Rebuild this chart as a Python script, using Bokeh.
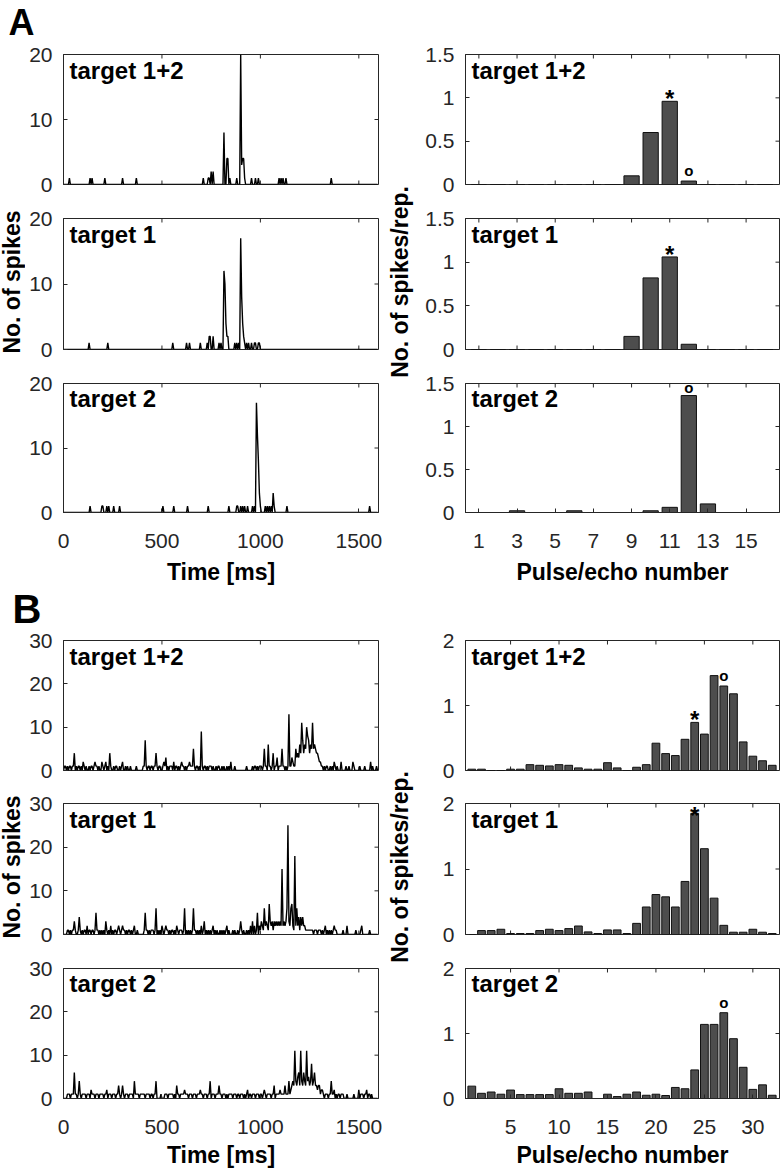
import numpy as np
from bokeh.plotting import figure
from bokeh.layouts import column, row
from bokeh.models import Range1d, FixedTicker, Label, NumeralTickFormatter
from bokeh.embed import file_html
from bokeh.resources import INLINE

FONT = "Liberation Sans"
DARK = "#262626"

# ---------------------------------------------------------------- data
BIN_MS = 5
N_BINS = 320
time_ticks = [0, 500, 1000, 1500]

# Panel A, PSTHs (spike counts per 5 ms bin; bins not listed are 0)
a12_t = [30, 135, 145, 210, 300, 370, 710, 735, 740, 750, 760, 815, 830, 835, 845,
         880, 900, 905, 910, 915, 920, 955, 975, 990, 1095, 1105, 1115, 1130, 1360]
a12_n = [1, 1, 1, 1, 1, 1, 1, 1, 1, 2, 2, 8, 4, 4, 1,
         1, 20, 3, 4, 4, 1, 1, 1, 1, 1, 1, 1, 1, 1]
a1_t = [130, 225, 555, 625, 640, 695, 730, 740, 745, 760, 790, 800, 815, 820, 825, 830,
        835, 870, 880, 890, 900, 905, 910, 915, 920, 930, 940, 955, 970, 975, 990, 995]
a1_n = [1, 1, 1, 1, 1, 1, 1, 2, 2, 2, 1, 1, 12, 10, 4, 2,
        2, 1, 1, 1, 17, 8, 4, 2, 1, 1, 1, 1, 1, 1, 1, 1]
a2_t = [135, 195, 200, 220, 230, 255, 285, 505, 560, 630, 735, 840, 880, 885, 900, 910,
        920, 935, 960, 970, 980, 985, 990, 995, 1000, 1025, 1035, 1045, 1055, 1065, 1070,
        1135, 1555]
a2_n = [1, 1, 1, 1, 1, 1, 1, 1, 1, 1, 1, 1, 1, 1, 1, 1,
        1, 1, 1, 1, 17, 12, 8, 3, 1, 1, 1, 1, 1, 3, 1,
        1, 1]

# Panel A, spikes per repetition for pulse/echo 1..16
a_pulse = list(range(1, 17))
a_pulse_ticks = [1, 3, 5, 7, 9, 11, 13, 15]
a12_bars = [0, 0, 0, 0, 0, 0, 0, 0, 0.10, 0.60, 0.96, 0.04, 0, 0, 0, 0]
a1_bars = [0, 0, 0, 0, 0, 0, 0, 0, 0.15, 0.82, 1.06, 0.06, 0, 0, 0, 0]
a2_bars = [0, 0, 0.02, 0, 0, 0.02, 0, 0, 0, 0.02, 0.06, 1.36, 0.10, 0, 0, 0]
a12_star, a12_circ = [11], [12]
a1_star, a1_circ = [11], []
a2_star, a2_circ = [], [12]

# Panel B, PSTHs: background counts per 5 ms bin (digit strings) + larger bins
b12_base = ["0110101101", "1001011010", "1101001011", "0101101001", "1011010110",
            "0101100101", "1001010010", "0000100000", "0110101101", "1011010110",
            "0101101011", "1010110101", "0110101101", "1101011010", "0101101011",
            "1010010110", "0101001010", "1000100000", "0000001000", "0010110101",
            "1101011011", "1011011101", "1101101011", "1111111111", "1111111111",
            "1111111111", "1011010110", "0101001010", "0010000100", "1000010000",
            "0100001000", "0010100010"]
b12_t = [55, 100, 160, 195, 215, 235, 300, 415, 470, 510, 520, 560, 600, 640, 660, 700,
         850, 1020, 1040, 1065, 1085, 1110, 1145, 1160, 1165, 1180, 1185, 1190, 1195,
         1200, 1205, 1210, 1215, 1220, 1225, 1230, 1235, 1240, 1245, 1250, 1255, 1260,
         1265, 1270, 1275, 1280, 1285, 1290, 1295, 1300, 1305, 1375, 1410, 1470, 1560]
b12_n = [4, 2, 2, 2, 2, 4, 2, 7, 4, 2, 3, 2, 2, 2, 5, 9,
         2, 5, 6, 4, 3, 5, 13, 3, 2, 5, 3, 4, 3,
         6, 4, 11, 7, 4, 6, 5, 10, 8, 7, 4, 6, 5,
         11, 5, 6, 5, 4, 4, 3, 2, 2, 2, 2, 2, 2]

b1_base = ["0000110101", "1010010101", "0110101101", "1010110101", "0101101010",
           "1011010101", "0110101101", "0100010000", "0010110101", "1101101010",
           "0101011010", "1101011011", "1011010101", "0101101010", "1010010101",
           "0110101001", "0101010010", "0010100101", "0101001010", "1010101101",
           "1111111111", "1111111111", "1111111111", "1111111111", "1111111111",
           "1111011101", "1101011010", "1010101100", "0000100000", "0000000100",
           "0010000000", "0100000000"]
b1_t = [55, 80, 120, 165, 215, 240, 280, 300, 360, 415, 470, 500, 520, 575, 615, 660,
        700, 715, 760, 830, 900, 950, 960, 970, 985, 995, 1005, 1010, 1020, 1025, 1030,
        1035, 1045, 1050, 1055, 1060, 1070, 1075, 1080, 1085, 1090, 1095, 1100, 1105,
        1110, 1115, 1120, 1125, 1130, 1135, 1140, 1145, 1150, 1155, 1160, 1165, 1175,
        1180, 1185, 1190, 1195, 1205, 1210, 1215, 1220, 1225, 1330, 1375, 1440, 1515]
b1_n = [3, 4, 2, 5, 3, 2, 2, 2, 2, 5, 6, 2, 2, 2, 6, 6,
        2, 3, 2, 2, 3, 2, 3, 2, 5, 2, 3, 2, 6, 2, 3,
        2, 7, 3, 2, 3, 3, 2, 3, 2, 3, 2, 3, 2,
        15, 2, 3, 2, 3, 6, 25, 3, 2, 6, 7, 2, 18,
        2, 6, 2, 4, 4, 2, 4, 2, 2, 2, 2, 2, 2]

b2_base = ["0000111011", "1111011101", "1110111011", "1101110111", "1011101110",
           "1110111101", "1101110111", "1011111011", "1110111101", "1011000001",
           "0001110111", "1101011101", "1110111011", "1011101110", "1101110111",
           "0111011101", "1011101011", "1101110110", "1110101101", "1011101110",
           "1101110111", "1011101111", "0111111111", "1111111111", "1111111111",
           "1111111111", "1111101110", "1101110101", "1011100010", "0000010000",
           "0011101110", "1101000000"]
b2_t = [55, 80, 140, 220, 280, 300, 360, 470, 575, 615, 695, 745, 790, 935, 1020, 1070,
        1100, 1125, 1145, 1155, 1160, 1165, 1170, 1175, 1180, 1185, 1190, 1195, 1200,
        1205, 1210, 1215, 1220, 1225, 1230, 1235, 1240, 1245, 1250, 1255, 1260, 1265,
        1270, 1275, 1280, 1285, 1290, 1295, 1300, 1310, 1315, 1360, 1375, 1500, 1540]
b2_n = [6, 4, 2, 2, 3, 3, 4, 4, 3, 2, 2, 4, 3, 2, 2, 3,
        2, 3, 4, 2, 3, 4, 3, 11, 4, 3, 5, 6, 3,
        11, 4, 3, 6, 4, 3, 11, 4, 5, 3, 4, 8, 3,
        4, 6, 3, 3, 2, 3, 3, 2, 2, 4, 2, 2, 2]

# Panel B, spikes per repetition for pulse/echo 1..32
b_pulse = list(range(1, 33))
b_pulse_ticks = [5, 10, 15, 20, 25, 30]
b12_bars = [0.02, 0.02, 0, 0, 0.02, 0.02, 0.09, 0.08, 0.07, 0.09, 0.08, 0.04, 0.02, 0.02,
            0.12, 0.04, 0, 0.05, 0.09, 0.42, 0.26, 0.23, 0.48, 0.74, 0.56, 1.46, 1.30,
            1.18, 0.44, 0.22, 0.15, 0.08]
b1_bars = [0, 0.06, 0.06, 0.08, 0.015, 0.015, 0.015, 0.06, 0.08, 0.06, 0.09, 0.13, 0.04,
           0.015, 0.07, 0.07, 0.015, 0.17, 0.42, 0.61, 0.575, 0.42, 0.81, 1.85, 1.31,
           0.555, 0.14, 0.035, 0.035, 0.08, 0.035, 0.015]
b2_bars = [0.19, 0.08, 0.10, 0.066, 0.13, 0.06, 0.06, 0.06, 0.06, 0.15, 0.08, 0.08, 0.10,
           0, 0.066, 0.03, 0.066, 0.10, 0.05, 0.066, 0.046, 0.17, 0.15, 0.44, 1.14, 1.14,
           1.32, 0.92, 0.48, 0.14, 0.21, 0.05]
b12_star, b12_circ = [24], [27]
b1_star, b1_circ = [24], []
b2_star, b2_circ = [], [27]

# ---------------------------------------------------------------- helpers
SHIFT = 0.3   # baseline correction (em) for alphabetic labels

def counts(spike_t, spike_n, base=None):
    if base is None:
        c = np.zeros(N_BINS)
    else:
        c = np.array([int(ch) for ch in "".join(base)], dtype=float)
        c = np.pad(c, (0, max(0, N_BINS - len(c))))[:N_BINS]
    for t, n in zip(spike_t, spike_n):
        c[int(round(t / BIN_MS))] = n
    return c

bin_t = np.arange(N_BINS) * BIN_MS

def style_axis(ax, ticks, standoff, fmt=None):
    ax.ticker = FixedTicker(ticks=ticks, minor_ticks=[])
    ax.major_tick_in = 4
    ax.major_tick_out = 0
    ax.major_tick_line_color = DARK
    ax.minor_tick_line_color = None
    ax.axis_line_color = DARK
    ax.major_label_text_font = FONT
    ax.major_label_text_color = DARK
    ax.major_label_text_font_size = "21px"
    ax.major_label_standoff = standoff
    ax.axis_label_text_font = FONT
    ax.axis_label_text_font_style = "bold"
    ax.axis_label_text_font_size = "23px"
    ax.axis_label_text_color = "black"
    if fmt is not None:
        ax.formatter = fmt

def panel(side, spec, xr, yr, xticks, yticks, xlabels, title, yfmt=None):
    h, bt, bb = spec
    w, bl, br = (360, 38, 7) if side == "left" else (365, 50, 1)
    p = figure(width=w, height=h, x_range=Range1d(*xr), y_range=Range1d(*yr),
               min_border_left=bl, min_border_right=br, min_border_top=bt,
               min_border_bottom=bb, output_backend="svg", toolbar_location=None,
               x_axis_location="below" if xlabels else None)
    fw, fh = w - bl - br, h - bt - bb
    if xlabels:
        style_axis(p.below[0], xticks, 21)
    style_axis(p.left[0], yticks, 11, yfmt)
    p.grid.visible = False
    p.outline_line_color = DARK
    p.outline_line_width = 1
    p.background_fill_color = "white"
    p.border_fill_color = "white"
    # inward ticks on the top / right (and unlabeled bottom) edges
    dx = 4 * (xr[1] - xr[0]) / fw
    dy = 4 * (yr[1] - yr[0]) / fh
    xt = [t for t in xticks if xr[0] <= t <= xr[1]]
    sx0, sy0, sx1, sy1 = list(xt), [yr[1]] * len(xt), list(xt), [yr[1] - dy] * len(xt)
    if not xlabels:
        sx0 += xt; sy0 += [yr[0]] * len(xt); sx1 += xt; sy1 += [yr[0] + dy] * len(xt)
    sx0 += [xr[1]] * len(yticks); sy0 += list(yticks)
    sx1 += [xr[1] - dx] * len(yticks); sy1 += list(yticks)
    p.segment(x0=sx0, y0=sy0, x1=sx1, y1=sy1, line_color=DARK, line_width=1)
    p.add_layout(Label(x=6, y=fh - 23 + SHIFT * 24, x_units="screen", y_units="screen",
                       text=title, text_font=FONT, text_font_style="bold",
                       text_font_size="24px", text_color="black",
                       text_baseline="alphabetic"))
    return p

def psth(spec, c, ymax, yticks, xlabels, title):
    p = panel("left", spec, (0, 1600), (0, ymax), time_ticks, yticks, xlabels, title)
    p.line(bin_t, c, line_color="black", line_width=1.4)
    return p

def bars(spec, pos, vals, xr, ymax, xticks, yticks, xlabels, title, stars, circs):
    p = panel("right", spec, xr, (0, ymax), xticks, yticks, xlabels, title,
              NumeralTickFormatter(format="0.[0]"))
    p.vbar(x=pos, top=vals, width=0.8, fill_color="#4d4d4d", line_color="#111111",
           line_width=1)
    fh = spec[0] - spec[1] - spec[2]
    d = ymax / fh   # data units per pixel
    for xv in stars:
        v = vals[pos.index(xv)]
        off = min(9.0, (ymax - v) / d - 5.0)     # glyph centre above the bar (px)
        p.add_layout(Label(x=xv, y=v + (off - 6.5) * d, text="*", text_font=FONT,
                           text_font_style="bold", text_font_size="24px",
                           text_color="black", text_align="center",
                           text_baseline="alphabetic"))
    for xv in circs:
        v = vals[pos.index(xv)]
        off = min(10.0, (ymax - v) / d - 4.5)
        p.add_layout(Label(x=xv, y=v + (off + 0.6) * d, text="o", text_font=FONT,
                           text_font_style="bold", text_font_size="15px",
                           text_color="black", text_align="center",
                           text_baseline="alphabetic"))
    return p

def blank(w, h):
    s = figure(width=w, height=h, x_range=Range1d(0, 1), y_range=Range1d(0, 1),
               x_axis_location=None, y_axis_location=None, min_border=0,
               output_backend="svg", toolbar_location=None)
    s.outline_line_color = None
    s.grid.visible = False
    return s

def letter_strip(h, letter, x, base_from_bottom, size):
    s = blank(780, h)
    s.add_layout(Label(x=x, y=base_from_bottom + SHIFT * size, x_units="screen",
                       y_units="screen", text=letter, text_font=FONT,
                       text_font_style="bold", text_font_size="%dpx" % size,
                       text_color="black", text_baseline="alphabetic"))
    return s

def ytitle_strip(w, h, text, cap_left, centre_from_bottom):
    s = blank(w, h)
    s.add_layout(Label(x=cap_left + 0.716 * 23 - SHIFT * 23, y=centre_from_bottom,
                       x_units="screen", y_units="screen", text=text, text_font=FONT,
                       text_font_style="bold", text_font_size="23px",
                       text_color="black", text_align="center",
                       text_baseline="alphabetic", angle=np.pi / 2))
    return s

# row specs: (figure height, top border, bottom border)
A1, A2, A3 = (159, 12, 17), (165, 17, 17), (221, 17, 74)
B1, B2, B3 = (156, 10, 16), (165, 17, 17), (219, 17, 71)

la1 = psth(A1, counts(a12_t, a12_n), 20, [0, 10, 20], False, "target 1+2")
la2 = psth(A2, counts(a1_t, a1_n), 20, [0, 10, 20], False, "target 1")
la3 = psth(A3, counts(a2_t, a2_n), 20, [0, 10, 20], True, "target 2")
ra1 = bars(A1, a_pulse, a12_bars, (0.3, 16.75), 1.5, a_pulse_ticks, [0, 0.5, 1, 1.5],
           False, "target 1+2", a12_star, a12_circ)
ra2 = bars(A2, a_pulse, a1_bars, (0.3, 16.75), 1.5, a_pulse_ticks, [0, 0.5, 1, 1.5],
           False, "target 1", a1_star, a1_circ)
ra3 = bars(A3, a_pulse, a2_bars, (0.3, 16.75), 1.5, a_pulse_ticks, [0, 0.5, 1, 1.5],
           True, "target 2", a2_star, a2_circ)

lb1 = psth(B1, counts(b12_t, b12_n, b12_base), 30, [0, 10, 20, 30], False, "target 1+2")
lb2 = psth(B2, counts(b1_t, b1_n, b1_base), 30, [0, 10, 20, 30], False, "target 1")
lb3 = psth(B3, counts(b2_t, b2_n, b2_base), 30, [0, 10, 20, 30], True, "target 2")
rb1 = bars(B1, b_pulse, b12_bars, (0.35, 32.75), 2, b_pulse_ticks, [0, 1, 2],
           False, "target 1+2", b12_star, b12_circ)
rb2 = bars(B2, b_pulse, b1_bars, (0.35, 32.75), 2, b_pulse_ticks, [0, 1, 2],
           False, "target 1", b1_star, b1_circ)
rb3 = bars(B3, b_pulse, b2_bars, (0.35, 32.75), 2, b_pulse_ticks, [0, 1, 2],
           True, "target 2", b2_star, b2_circ)

# x axis titles
la3.below[0].axis_label = "Time [ms]"
ra3.below[0].axis_label = "Pulse/echo number"
lb3.below[0].axis_label = "Time [ms]"
rb3.below[0].axis_label = "Pulse/echo number"
for p in (la3, ra3):
    p.below[0].axis_label_standoff = 8
for p in (lb3, rb3):
    p.below[0].axis_label_standoff = 5

hA = A1[0] + A2[0] + A3[0]
hB = B1[0] + B2[0] + B3[0]
# y titles, centred on the middle row of each panel
cA = A3[0] + A2[0] - A2[1] - (A2[0] - A2[1] - A2[2]) / 2 + 2
cB = B3[0] + B2[0] - B2[1] - (B2[0] - B2[1] - B2[2]) / 2 + 2
ylA_l = ytitle_strip(25, hA, "No. of spikes", 2, cA)
ylA_r = ytitle_strip(30, hA, "No. of spikes/rep.", 5, cA)
ylB_l = ytitle_strip(25, hB, "No. of spikes", 2, cB)
ylB_r = ytitle_strip(30, hB, "No. of spikes/rep.", 5, cB)

strip_a = letter_strip(42, "A", 8, 9, 36)
strip_b = letter_strip(43, "B", 12, 10, 40)

layout = column(
    strip_a,
    row(ylA_l, column(la1, la2, la3), ylA_r, column(ra1, ra2, ra3)),
    strip_b,
    row(ylB_l, column(lb1, lb2, lb3), ylB_r, column(rb1, rb2, rb3)),
)

open("out.html", "w").write(file_html(layout, INLINE))
